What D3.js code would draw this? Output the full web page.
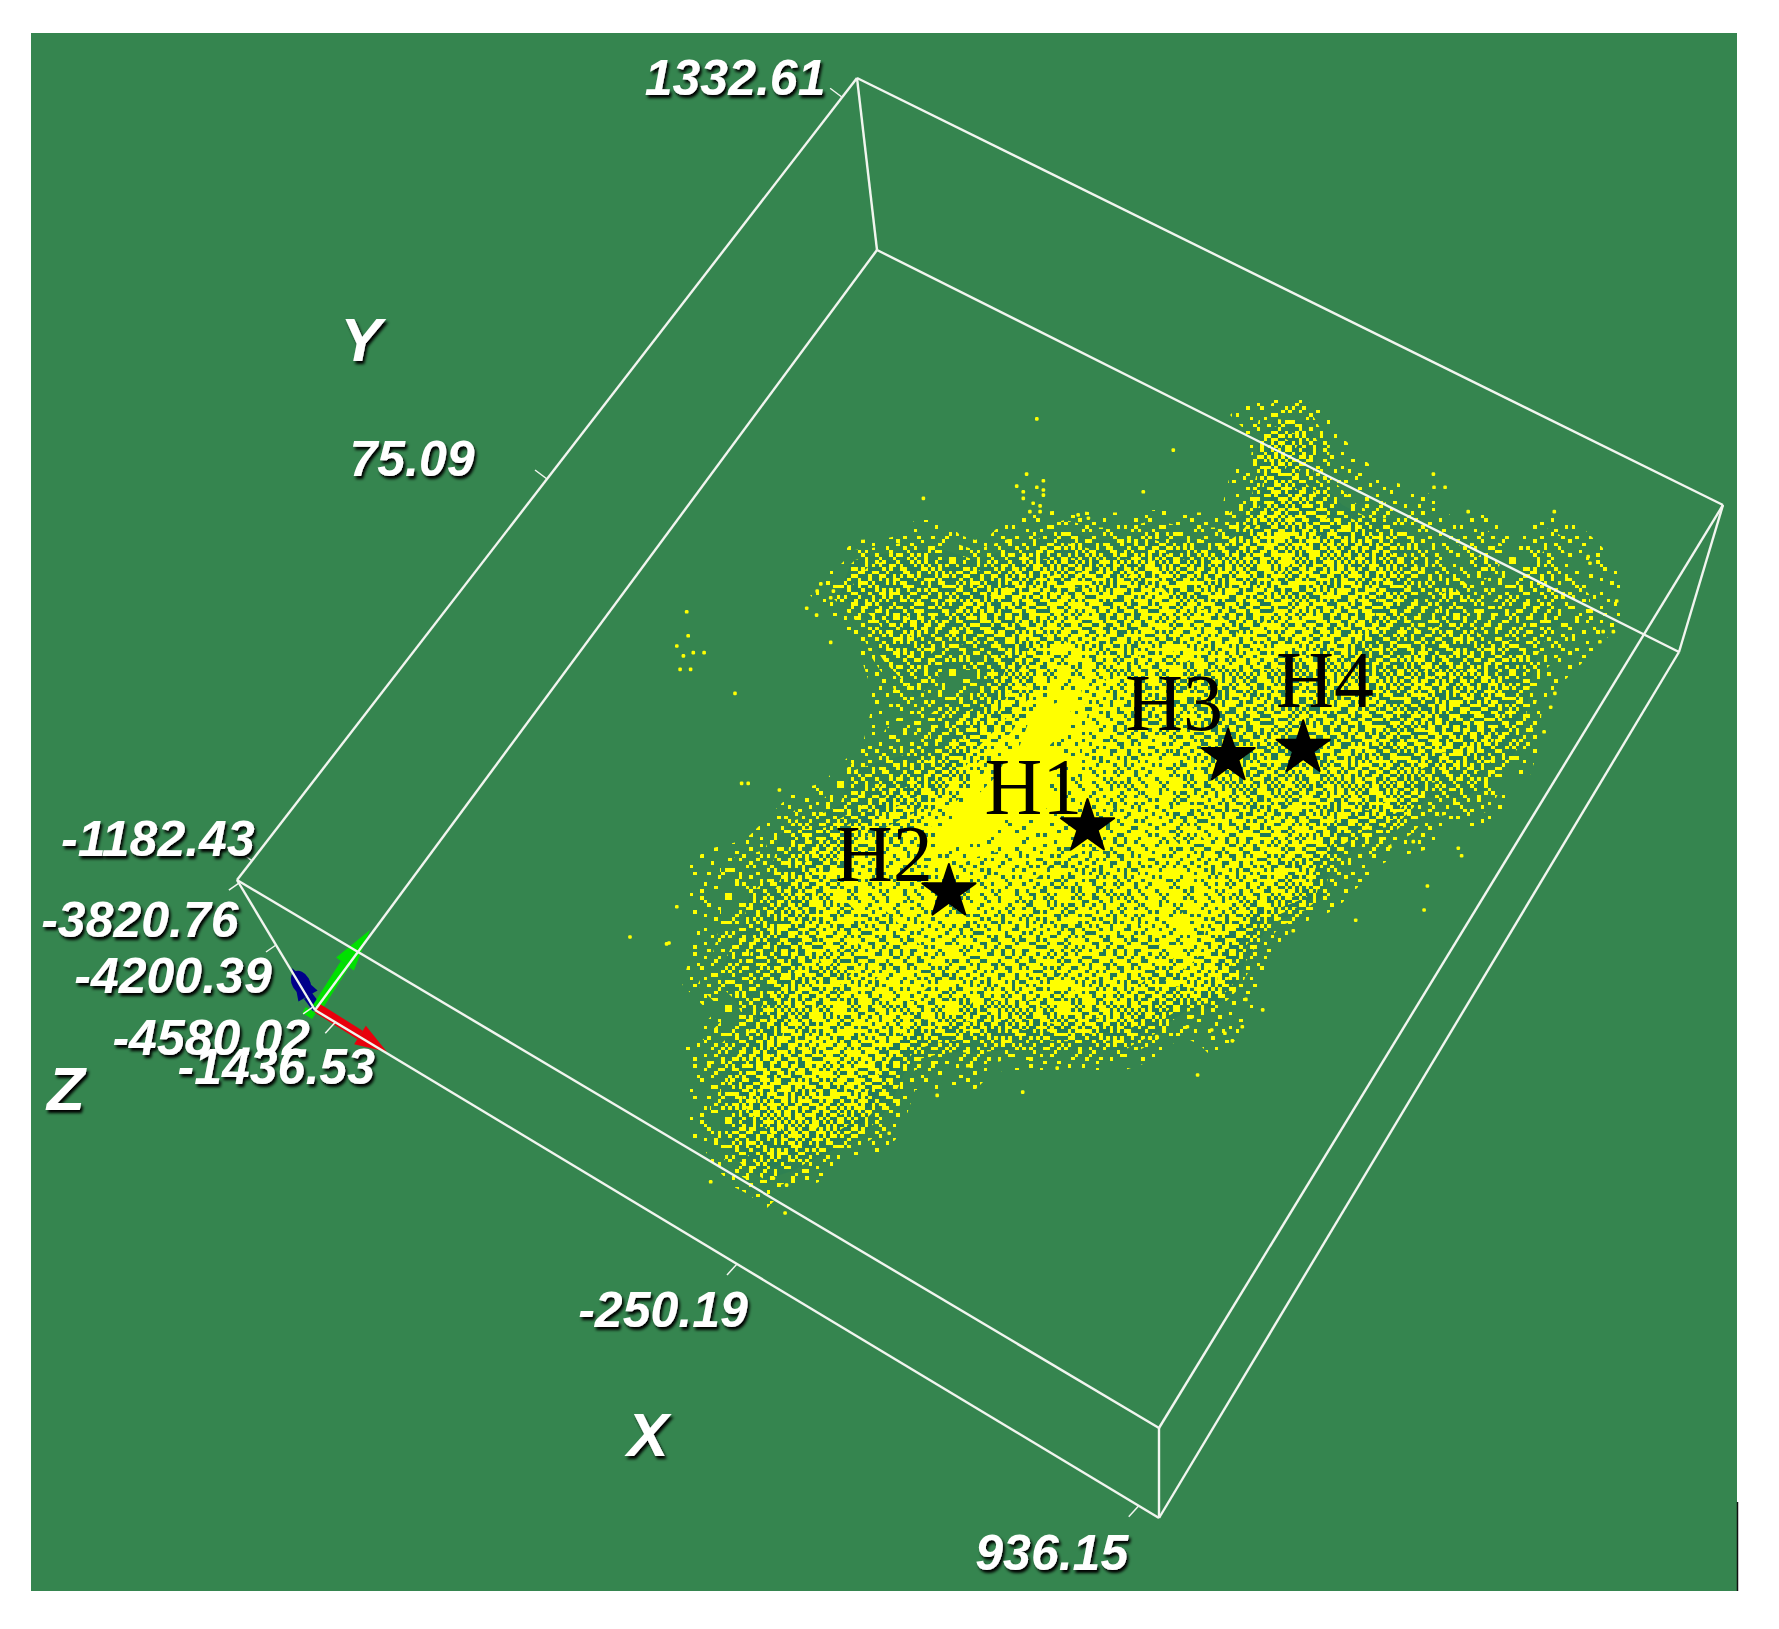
<!DOCTYPE html>
<html>

<head>
    <meta charset="utf-8">
    <title>Point cloud with hypocentres H1-H4</title>
    <script src="https://d3js.org/d3.v7.min.js"></script>
    <style>
        body { margin: 0; background: #fff; }
        svg { display: block; }
    </style>
</head>

<body>
    <svg id="canvas"></svg>

    <script>
        // axis values, as printed on the box
        var xTicks = [-1436.53, -250.19, 936.15];
        var yTicks = [-1182.43, 75.09, 1332.61];
        var zTicks = [-3820.76, -4200.39, -4580.02];
        var xTickText = ["-1436.53", "-250.19", "936.15"];
        var yTickText = ["-1182.43", "75.09", "1332.61"];
        var zTickText = ["-3820.76", "-4200.39", "-4580.02"];

        // the cloud has far too many points to read one by one, so it is kept as
        // estimated density per grid cell (0 = empty, a = solid)
        var cloudDensity = [
            "0000000000000000000122",
            "00000000000000000000641",
            "000000000000000000015311",
            "00000000000000000002553121",
            "000000001101232232247655321202100",
            "000000344434555565567665532323110",
            "000001444456677676666666534233210",
            "000000145455676677767766434333210",
            "000000034334687678777664454442100",
            "000000013225798776666666565541000",
            "00000001234" + "6aa8777666666555540000",
            "000000022369a98787666666566530000",
            "00000033458aa987877666665443100000",
            "0000123568aaa98787766766722200000",
            "000144678aa99988878777532100000000",
            "012246888988877788777621000000000",
            "012357888888777788877510000000000",
            "012457778877777789752",
            "01345767787777777873",
            "02336678877778776771",
            "00246777776667765211",
            "0235677743333333101",
            "01466775111",
            "01466663",
            "01446531",
            "002431",
            "0001"
        ];

        // single points outside the dense part, in grid units
        var strayCol = [12.56, 8.78, 12.22, 11.89, 12.78, 12.56, 12.78, 12.78, 12.11, 12.11, 12.44, 12.67, 12.33, 12.67, 16.11, 13.94, 14.28,
            0.89, 0.94, 0.56, 1.11, 1.47, 0.78, 0.67, 1.02, 2.5, 4.89, 5.22, 5.36, 5.24, 5.78, 5.69, 5.69, 2.72, 2.94, 3.98,
            17.11, 25.78, 25.8, 26.17, 26.94, 29.81, 30.94, 31, 31.89, 31.44, 31.78, 31.33, 29.83, 29.69, 29.47,
            26.61, 26.72, 25.58, 25.47, 23.19, 21.11, 20.09, 19.53, 19.41, 18.83, 19.08, 18.39, 17.92, 16.56, 17.58, 25.11, 24.33,
            12.09, 13.24, 9.24, 7.64, 1.69, 4.22, 0.56, 0.22, 3.78, 4.17, -1, 0.3];
        var strayRow = [0.63, 3.28, 2.47, 2.87, 2.69, 2.91, 3, 3.17, 3.06, 3.28, 3.44, 3.53, 3.72, 3.72, 3.06, 3.83, 3.94,
            7.06, 7.86, 8.2, 8.42, 8.42, 8.53, 8.98, 8.98, 9.78, 6.94, 7.17, 6.13, 6.37, 6.37, 6.59, 8.08, 12.78, 12.78, 13,
            1.67, 2.47, 2.91, 2.91, 3.72, 3.72, 5.22, 5.44, 6.7, 7.72, 7.72, 8.06, 9.78, 10.24, 11.06,
            14.94, 15.19, 16.2, 17, 17.34, 17.69, 20.33, 19.98, 20.89, 21.11, 21.36, 21, 22.5, 21.22, 20.89, 14.72, 14.89,
            23.07, 22.27, 23.18, 24.44, 26.06, 26.17, 16.89, 18.13, 25.94, 27.1, 17.9, 18.1];

        // the four stars, in grid units
        var hypoNames = ["H1", "H2", "H3", "H4"];
        var hypoCol = [14.25, 9.63, 18.94, 21.44];
        var hypoRow = [14.23, 16.4, 11.89, 11.61];

        // threshold tile used to turn a density into a dot texture
        var ditherRows = [
            "2749163805729461", "6285917340682935", "9136478215093748", "4702951863417062",
            "8351260794825139", "1964738520361784", "5028496173940276", "7613085942758301",
            "3490672518126957", "0875314960483629", "6142859037561480", "9327041685209713",
            "4758923176834052", "1096357840271698", "8534610297965324", "3861792453018507"
        ];

        var width = 1779;
        var height = 1629;
        var green = "#35854f";

        var svg = d3.select("#canvas")
            .attr("width", width)
            .attr("height", height);

        var defs = svg.append("defs");

        // blurred dark shadow behind the white box labels
        var shadow = defs.append("filter").attr("id", "shadow")
            .attr("x", "-10%").attr("y", "-20%").attr("width", "120%").attr("height", "150%");
        shadow.append("feGaussianBlur").attr("in", "SourceAlpha").attr("stdDeviation", 1.4).attr("result", "b");
        shadow.append("feOffset").attr("in", "b").attr("dx", 1.5).attr("dy", 3).attr("result", "o");
        shadow.append("feGaussianBlur").attr("in", "SourceGraphic").attr("stdDeviation", 0.7).attr("result", "s");
        var merge = shadow.append("feMerge");
        merge.append("feMergeNode").attr("in", "o");
        merge.append("feMergeNode").attr("in", "s");

        // threshold at a tile site, the 16x16 block turned around in each quadrant
        function threshold(i, j) {
            var a = i % 16, b = j % 16;
            var right = i >= 16, low = j >= 16;
            if (right && !low) return +ditherRows[a][15 - b];
            if (!right && low) return +ditherRows[15 - a][b];
            if (right && low) return +ditherRows[15 - b][15 - a];
            return +ditherRows[b][a];
        }

        // one dot pattern for each density level
        var pitch = 3.5;
        var gapColor = d3.scaleThreshold().domain([3, 4, 5]).range([green, "#2f8152", "#2a7e55", "#237a5a"]);
        d3.range(1, 11).forEach(function (level) {
            var p = defs.append("pattern")
                .attr("id", "dots" + level)
                .attr("patternUnits", "userSpaceOnUse")
                .attr("width", pitch * 32)
                .attr("height", pitch * 32);
            p.append("rect")
                .attr("width", pitch * 32)
                .attr("height", pitch * 32)
                .attr("fill", gapColor(level));
            d3.range(32).forEach(function (j) {
                d3.range(32).forEach(function (i) {
                    if (threshold(i, j) < level) {
                        p.append("rect")
                            .attr("x", i * pitch)
                            .attr("y", j * pitch)
                            .attr("width", pitch)
                            .attr("height", pitch)
                            .attr("shape-rendering", "crispEdges")
                            .attr("fill", "#ffff00");
                    }
                });
            });
        });

        // plot background
        svg.append("rect")
            .attr("x", 31).attr("y", 33)
            .attr("width", 1706).attr("height", 1558)
            .attr("fill", green);
        svg.append("line")
            .attr("x1", 1737.5).attr("x2", 1737.5)
            .attr("y1", 1502).attr("y2", 1591)
            .attr("stroke", "#111").attr("stroke-width", 1.5);

        // grid units to picture
        var nCols = 33, nRows = 27;
        var colScale = d3.scaleLinear().domain([0, nCols]).range([660, 1650]);
        var rowScale = d3.scaleLinear().domain([0, nRows]).range([400, 1210]);

        var densityValues = [];
        cloudDensity.forEach(function (row) {
            d3.range(nCols).forEach(function (col) {
                densityValues.push(col < row.length ? parseInt(row[col], 16) : 0);
            });
        });

        var levels = d3.range(1, 11);
        var bands = d3.contours()
            .size([nCols, nRows])
            .thresholds(levels.map(function (l) { return l - 0.5; }))(densityValues);

        var gridPath = d3.geoPath(d3.geoTransform({
            point: function (x, y) { this.stream.point(colScale(x), rowScale(y)); }
        }));

        svg.append("g").attr("id", "cloud")
            .selectAll("path")
            .data(bands)
            .enter()
            .append("path")
            .attr("d", gridPath)
            .attr("fill", function (d, i) { return "url(#dots" + levels[i] + ")"; });

        svg.append("g").attr("id", "strays")
            .selectAll("rect")
            .data(strayCol)
            .enter()
            .append("rect")
            .attr("x", function (d) { return colScale(d) - 1.8; })
            .attr("y", function (d, i) { return rowScale(strayRow[i]) - 1.8; })
            .attr("width", 3.6)
            .attr("height", 3.6)
            .attr("rx", 1.2)
            .attr("fill", "#ffff00");

        // projected corners of the box
        var A = [857, 78], B = [877, 250], C = [237, 880], D = [1723, 505],
            E = [1679, 652], F = [1159, 1428], G = [1159, 1518], H = [315, 1010];

        // orientation arrows at the near corner
        var axes = svg.append("g").attr("id", "arrows");
        function arrow(tip, neck, color) {
            var dx = tip[0] - neck[0], dy = tip[1] - neck[1];
            var len = Math.sqrt(dx * dx + dy * dy);
            var nx = -dy / len * 11, ny = dx / len * 11;
            axes.append("line")
                .attr("x1", H[0] + 2).attr("y1", H[1] - 2)
                .attr("x2", neck[0]).attr("y2", neck[1])
                .attr("stroke", color).attr("stroke-width", 10);
            axes.append("path")
                .attr("d", d3.line()([[neck[0] + nx, neck[1] + ny], tip, [neck[0] - nx, neck[1] - ny]]))
                .attr("fill", color);
        }
        arrow([292, 968], [308, 996], "#00008a");
        axes.append("ellipse")
            .attr("cx", 301).attr("cy", 983)
            .attr("rx", 9).attr("ry", 13)
            .attr("transform", "rotate(-30 301 983)")
            .attr("fill", "#00008a");
        arrow([370, 930], [345, 964], "#00e000");
        arrow([387, 1052], [360, 1035], "#e8000c");
        axes.append("line")
            .attr("x1", 304).attr("y1", 1010).attr("x2", 314).attr("y2", 1016)
            .attr("stroke", "#00e000").attr("stroke-width", 7);

        // box wireframe
        var edges = [[A, D], [D, F], [F, C], [C, A], [B, E], [E, G], [G, H], [H, B], [A, B], [D, E], [F, G], [C, H]];
        var wire = svg.append("g").attr("id", "box");
        wire.selectAll("path")
            .data(edges)
            .enter()
            .append("path")
            .attr("d", d3.line())
            .attr("fill", "none")
            .attr("stroke", "#f1f5ef")
            .attr("stroke-width", 2.4);

        // each axis runs along one box edge, with the end ticks a little inside it
        function along(from, to, domain) {
            var t = d3.scaleLinear().domain(domain).range([0.024, 0.976]);
            return function (v) {
                return [from[0] + (to[0] - from[0]) * t(v), from[1] + (to[1] - from[1]) * t(v)];
            };
        }
        var xAxis = along(H, G, [xTicks[0], xTicks[2]]);
        var yAxis = along(C, A, [yTicks[0], yTicks[2]]);
        var zAxis = along(C, H, [zTicks[0], zTicks[2]]);

        // tick direction and where the label sits relative to its tick
        var xAxisDef = { pos: xAxis, ticks: xTicks, text: xTickText, dir: [-10, 11], off: [[-59, 44], [-74, 45], [-87, 46]] };
        var yAxisDef = { pos: yAxis, ticks: yTicks, text: yTickText, dir: [-12, -9], off: [[-94, -23], [-135, -21], [-107, -20]] };
        var zAxisDef = { pos: zAxis, ticks: zTicks, text: zTickText, dir: [-10, 7], off: [[-99, 36], [-103, 30], [-102, 30]] };

        var labels = svg.append("g").attr("id", "tick-labels")
            .attr("font-family", "'Liberation Sans', sans-serif")
            .attr("font-style", "italic")
            .attr("font-weight", "bold")
            .attr("fill", "#fff")
            .attr("filter", "url(#shadow)");

        [zAxisDef, yAxisDef, xAxisDef].forEach(function (axis) {
            axis.ticks.forEach(function (v, i) {
                var p = axis.pos(v);
                wire.append("line")
                    .attr("x1", p[0]).attr("y1", p[1])
                    .attr("x2", p[0] + axis.dir[0]).attr("y2", p[1] + axis.dir[1])
                    .attr("stroke", "#f1f5ef").attr("stroke-width", 1.5);
                labels.append("text")
                    .attr("x", p[0] + axis.off[i][0])
                    .attr("y", p[1] + axis.off[i][1])
                    .attr("dy", "0.36em")
                    .attr("text-anchor", "middle")
                    .attr("font-size", 50)
                    .text(axis.text[i]);
            });
        });

        // axis letters sit off the middle tick of each axis
        var letterNames = ["X", "Y", "Z"];
        var letterBase = [xAxis(xTicks[1]), yAxis(yTicks[1]), zAxis(zTicks[1])];
        var letterOff = [[-89, 170], [-186, -140], [-210, 143]];
        labels.selectAll("text.letter")
            .data(letterNames)
            .enter()
            .append("text")
            .attr("class", "letter")
            .attr("x", function (d, i) { return letterBase[i][0] + letterOff[i][0]; })
            .attr("y", function (d, i) { return letterBase[i][1] + letterOff[i][1]; })
            .attr("dy", "0.36em")
            .attr("text-anchor", "middle")
            .attr("font-size", 62)
            .text(function (d) { return d; });

        // stars and their names
        var hypoLabelOff = [[-103, -13], [-114, -11], [-103, -27], [-27, -41]];
        var hypo = svg.append("g").attr("id", "hypocentres");
        hypo.selectAll("path")
            .data(hypoNames)
            .enter()
            .append("path")
            .attr("d", d3.symbol().type(d3.symbolStar).size(880))
            .attr("transform", function (d, i) {
                return "translate(" + colScale(hypoCol[i]) + "," + rowScale(hypoRow[i]) + ")";
            })
            .attr("fill", "#000")
            .attr("stroke", "#000")
            .attr("stroke-width", 2)
            .attr("stroke-linejoin", "round");
        hypo.selectAll("text")
            .data(hypoNames)
            .enter()
            .append("text")
            .attr("x", function (d, i) { return colScale(hypoCol[i]) + hypoLabelOff[i][0]; })
            .attr("y", function (d, i) { return rowScale(hypoRow[i]) + hypoLabelOff[i][1]; })
            .attr("font-family", "'Liberation Serif', serif")
            .attr("font-size", 80)
            .attr("fill", "#000")
            .text(function (d) { return d; });
    </script>

</body>

</html>
